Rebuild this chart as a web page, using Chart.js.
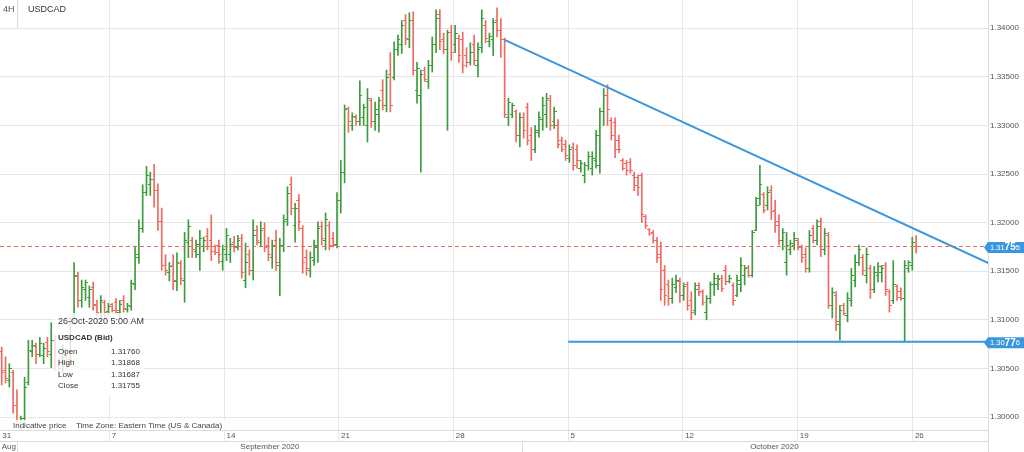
<!DOCTYPE html>
<html>
<head>
<meta charset="utf-8">
<script src="https://cdn.jsdelivr.net/npm/chart.js@4.4.1/dist/chart.umd.min.js"></script>
<style>
html,body{margin:0;padding:0;background:#fff;overflow:hidden}
#c{display:block}
</style>
</head>
<body>
<canvas id="c" width="1024" height="452"></canvas>
<script>
// ---------------- data (USDCAD 4H bars, index 0 = first visible bar) ----------------
const opens = [
1.3067,1.3048,1.3038,1.3046,1.3012,1.2993,1.2999,1.3036,1.3067,1.3073,
1.3064,1.3063,1.3077,1.3064,1.3079,1.3057,1.3050,1.3067,1.3059,1.3100,
1.3145,1.3120,1.3131,1.3123,1.3133,1.3116,1.3107,1.3118,1.3109,1.3116,
1.3118,1.3108,1.3120,1.3111,1.3114,1.3136,1.3164,1.3194,1.3231,1.3239,
1.3244,1.3233,1.3201,1.3156,1.3149,1.3156,1.3139,1.3158,1.3141,1.3180,
1.3182,1.3170,1.3167,1.3176,1.3186,1.3182,1.3175,1.3177,1.3160,1.3167,
1.3167,1.3180,1.3175,1.3184,1.3141,1.3167,1.3151,1.3192,1.3180,1.3194,
1.3177,1.3164,1.3182,1.3156,1.3177,1.3203,1.3239,1.3197,1.3223,1.3194,
1.3164,1.3151,1.3161,1.3174,1.3196,1.3182,1.3197,1.3184,1.3178,1.3223,
1.3252,1.3317,1.3300,1.3308,1.3304,1.3308,1.3300,1.3326,1.3304,1.3311,
1.3336,1.3321,1.3352,1.3349,1.3378,1.3383,1.3408,1.3388,1.3408,1.3336,
1.3331,1.3357,1.3345,1.3362,1.3383,1.3414,1.3388,1.3378,1.3396,1.3383,
1.3390,1.3388,1.3372,1.3365,1.3383,1.3362,1.3380,1.3403,1.3386,1.3388,
1.3408,1.3398,1.3388,1.3308,1.3311,1.3314,1.3290,1.3308,1.3318,1.3290,
1.3275,1.3295,1.3306,1.3311,1.3326,1.3304,1.3300,1.3285,1.3280,1.3266,
1.3277,1.3275,1.3256,1.3249,1.3259,1.3256,1.3264,1.3259,1.3314,1.3331,
1.3305,1.3303,1.3285,1.3264,1.3261,1.3262,1.3249,1.3246,1.3249,1.3206,
1.3193,1.3190,1.3182,1.3167,1.3151,1.3136,1.3122,1.3133,1.3139,1.3125,
1.3136,1.3120,1.3110,1.3135,1.3129,1.3108,1.3122,1.3136,1.3136,1.3143,
1.3151,1.3139,1.3135,1.3125,1.3136,1.3146,1.3154,1.3146,1.3192,1.3225,
1.3229,1.3218,1.3233,1.3213,1.3201,1.3182,1.3159,1.3172,1.3177,1.3182,
1.3174,1.3167,1.3153,1.3194,1.3182,1.3201,1.3172,1.3187,1.3115,1.3125,
1.3095,1.3115,1.3105,1.3120,1.3141,1.3159,1.3164,1.3146,1.3153,1.3131,
1.3146,1.3149,1.3156,1.3129,1.3120,1.3134,1.3129,1.3122,1.3153,1.3156,
1.31760];
const highs = [
1.3072,1.3062,1.3055,1.3048,1.3028,1.3001,1.3041,1.3079,1.3079,1.3076,
1.3082,1.3076,1.3082,1.3097,1.3084,1.3061,1.3074,1.3071,1.3102,1.3159,
1.3149,1.3141,1.3141,1.3135,1.3139,1.3120,1.3125,1.3120,1.3117,1.3117,
1.3122,1.3120,1.3125,1.3117,1.3141,1.3176,1.3203,1.3239,1.3258,1.3252,
1.3260,1.3240,1.3215,1.3167,1.3159,1.3167,1.3169,1.3161,1.3190,1.3203,
1.3185,1.3182,1.3192,1.3185,1.3194,1.3208,1.3177,1.3182,1.3177,1.3194,
1.3184,1.3186,1.3187,1.3188,1.3179,1.3172,1.3203,1.3197,1.3201,1.3200,
1.3185,1.3182,1.3192,1.3184,1.3208,1.3237,1.3247,1.3220,1.3229,1.3197,
1.3172,1.3170,1.3182,1.3201,1.3201,1.3210,1.3201,1.3190,1.3231,1.3264,
1.3321,1.3319,1.3313,1.3311,1.3346,1.3322,1.3338,1.3328,1.3324,1.3329,
1.3347,1.3357,1.3375,1.3386,1.3393,1.3408,1.3414,1.3416,1.3417,1.3365,
1.3357,1.3360,1.3367,1.3391,1.3419,1.3419,1.3395,1.3398,1.3403,1.3403,
1.3393,1.3396,1.3380,1.3385,1.3393,1.3385,1.3419,1.3408,1.3395,1.3410,
1.3421,1.3410,1.3390,1.3328,1.3323,1.3316,1.3313,1.3313,1.3323,1.3298,
1.3300,1.3314,1.3329,1.3333,1.3331,1.3319,1.3306,1.3288,1.3285,1.3280,
1.3282,1.3280,1.3264,1.3262,1.3273,1.3273,1.3295,1.3318,1.3338,1.3342,
1.3308,1.3308,1.3290,1.3266,1.3264,1.3266,1.3252,1.3249,1.3251,1.3208,
1.3194,1.3192,1.3185,1.3180,1.3156,1.3141,1.3143,1.3146,1.3143,1.3138,
1.3139,1.3129,1.3138,1.3138,1.3131,1.3125,1.3139,1.3148,1.3146,1.3146,
1.3156,1.3146,1.3138,1.3146,1.3164,1.3156,1.3156,1.3192,1.3226,1.3259,
1.3231,1.3237,1.3238,1.3223,1.3208,1.3194,1.3190,1.3182,1.3190,1.3184,
1.3177,1.3174,1.3192,1.3197,1.3203,1.3205,1.3194,1.3190,1.3133,1.3129,
1.3115,1.3117,1.3128,1.3153,1.3167,1.3177,1.3167,1.3174,1.3156,1.3155,
1.3159,1.3156,1.3159,1.3131,1.3161,1.3136,1.3133,1.3161,1.3161,1.3185,
1.31868];
const lows = [
1.3033,1.3035,1.3031,1.3004,1.2990,1.2987,1.2994,1.3033,1.3062,1.3055,
1.3062,1.3055,1.3062,1.3051,1.3048,1.3041,1.3046,1.3050,1.3053,1.3095,
1.3113,1.3113,1.3120,1.3113,1.3110,1.3104,1.3098,1.3102,1.3105,1.3108,
1.3107,1.3102,1.3108,1.3108,1.3110,1.3131,1.3158,1.3190,1.3228,1.3228,
1.3216,1.3192,1.3151,1.3146,1.3140,1.3131,1.3130,1.3136,1.3118,1.3164,
1.3164,1.3164,1.3151,1.3170,1.3172,1.3161,1.3167,1.3158,1.3151,1.3161,
1.3159,1.3170,1.3172,1.3143,1.3133,1.3146,1.3141,1.3177,1.3175,1.3170,
1.3161,1.3153,1.3151,1.3125,1.3170,1.3197,1.3208,1.3180,1.3192,1.3148,
1.3146,1.3144,1.3156,1.3159,1.3177,1.3172,1.3172,1.3175,1.3174,1.3210,
1.3241,1.3293,1.3295,1.3300,1.3300,1.3300,1.3283,1.3298,1.3295,1.3293,
1.3316,1.3314,1.3314,1.3347,1.3372,1.3374,1.3383,1.3380,1.3352,1.3323,
1.3252,1.3345,1.3338,1.3355,1.3375,1.3378,1.3374,1.3295,1.3367,1.3375,
1.3365,1.3354,1.3360,1.3362,1.3362,1.3350,1.3375,1.3385,1.3381,1.3372,
1.3391,1.3370,1.3308,1.3300,1.3308,1.3283,1.3278,1.3287,1.3280,1.3264,
1.3272,1.3288,1.3295,1.3298,1.3295,1.3297,1.3277,1.3273,1.3264,1.3262,
1.3254,1.3256,1.3252,1.3241,1.3254,1.3249,1.3256,1.3251,1.3300,1.3300,
1.3285,1.3267,1.3272,1.3254,1.3249,1.3251,1.3233,1.3228,1.3200,1.3194,
1.3187,1.3179,1.3159,1.3120,1.3115,1.3115,1.3117,1.3128,1.3118,1.3120,
1.3110,1.3100,1.3105,1.3125,1.3115,1.3100,1.3117,1.3125,1.3131,1.3129,
1.3136,1.3138,1.3115,1.3124,1.3129,1.3136,1.3144,1.3144,1.3192,1.3218,
1.3210,1.3213,1.3203,1.3190,1.3177,1.3172,1.3146,1.3167,1.3172,1.3172,
1.3159,1.3149,1.3149,1.3179,1.3177,1.3165,1.3167,1.3112,1.3102,1.3089,
1.3079,1.3105,1.3098,1.3114,1.3134,1.3156,1.3146,1.3138,1.3122,1.3128,
1.3139,1.3139,1.3125,1.3108,1.3117,1.3120,1.3120,1.30776,1.3149,1.3151,
1.31687];
const closes = [
1.3046,1.3040,1.3050,1.3012,1.2993,1.2999,1.3030,1.3069,1.3074,1.3064,
1.3076,1.3071,1.3067,1.3079,1.3057,1.3046,1.3069,1.3057,1.3098,1.3146,
1.3120,1.3133,1.3138,1.3131,1.3115,1.3108,1.3120,1.3108,1.3114,1.3110,
1.3110,1.3116,1.3112,1.3115,1.3137,1.3167,1.3194,1.3231,1.3249,1.3244,
1.3233,1.3201,1.3156,1.3151,1.3155,1.3141,1.3159,1.3143,1.3182,1.3196,
1.3172,1.3178,1.3184,1.3182,1.3176,1.3170,1.3169,1.3167,1.3172,1.3187,
1.3178,1.3174,1.3182,1.3149,1.3159,1.3151,1.3187,1.3182,1.3192,1.3174,
1.3167,1.3177,1.3159,1.3177,1.3201,1.3230,1.3215,1.3215,1.3201,1.3159,
1.3153,1.3164,1.3177,1.3194,1.3184,1.3203,1.3177,1.3177,1.3223,1.3252,
1.3316,1.3304,1.3309,1.3304,1.3331,1.3318,1.3328,1.3304,1.3316,1.3326,
1.3321,1.3349,1.3321,1.3378,1.3388,1.3403,1.3390,1.3408,1.3357,1.3359,
1.3352,1.3347,1.3362,1.3383,1.3410,1.3386,1.3378,1.3396,1.3375,1.3395,
1.3372,1.3362,1.3365,1.3375,1.3367,1.3378,1.3410,1.3390,1.3392,1.3406,
1.3398,1.3388,1.3311,1.3324,1.3321,1.3290,1.3308,1.3295,1.3285,1.3275,
1.3293,1.3308,1.3321,1.3328,1.3300,1.3314,1.3280,1.3275,1.3269,1.3275,
1.3259,1.3264,1.3261,1.3259,1.3268,1.3266,1.3290,1.3314,1.3331,1.3316,
1.3290,1.3275,1.3275,1.3256,1.3254,1.3254,1.3238,1.3236,1.3208,1.3197,
1.3189,1.3182,1.3164,1.3131,1.3125,1.3122,1.3136,1.3141,1.3125,1.3134,
1.3115,1.3108,1.3131,1.3128,1.3118,1.3122,1.3136,1.3143,1.3142,1.3132,
1.3139,1.3143,1.3120,1.3141,1.3156,1.3153,1.3146,1.3190,1.3218,1.3239,
1.3213,1.3231,1.3211,1.3197,1.3182,1.3190,1.3177,1.3179,1.3184,1.3174,
1.3164,1.3153,1.3187,1.3182,1.3196,1.3172,1.3189,1.3115,1.3128,1.3098,
1.3110,1.3107,1.3122,1.3146,1.3159,1.3172,1.3151,1.3167,1.3131,1.3149,
1.3155,1.3153,1.3131,1.3115,1.3136,1.3123,1.3122,1.3156,1.3159,1.3180,
1.31755];

// week separators (bar-index position of each Monday) and their day labels
const weekTicks  = [-1.8, 28.3, 58.4, 88.5, 118.6, 148.7, 178.8, 208.9, 239.1];
const weekLabels = ['31', '7', '14', '21', '28', '5', '12', '19', '26'];
// month boundaries (bar-index of Aug 1, Sep 1, Oct 1, Nov 1) and month labels
const monthStarts = [-122, 4.2, 136.6, 269.0];
const monthLabels = ['Aug', 'September 2020', 'October 2020'];
// price axis ticks
const yTicks = [1.300, 1.305, 1.310, 1.315, 1.320, 1.325, 1.330, 1.335, 1.340];
// drawn studies
const trendX = [132, 262];
const trendY = [1.3388, 1.3153];
const supportX = [148.7, 262];
const supportY = [1.30776, 1.30776];

const symbol = 'USDCAD';
const interval = '4H';
const lastBarTime = '26-Oct-2020 5:00 AM';

// ---------------- view / style ----------------
const xMin = -0.45, xMax = 258.87;
const yMin = 1.29867, yMax = 1.34291;
const FONT = '"Liberation Sans", Arial, Helvetica, sans-serif';
const UP = '#3c9b3c', DOWN = '#ee6a62', BLUE = '#3b97dd', GRID = '#e6e6e6', AXISLINE = '#dcdcdc';

Chart.defaults.font.family = FONT;
Chart.defaults.font.size = 8;
Chart.defaults.color = '#555';

const N = closes.length;
const last = N - 1;
const isUp = i => closes[i] >= opens[i];

function tickImage(color, side) {
  const c = document.createElement('canvas');
  c.width = 5; c.height = 1;
  const g = c.getContext('2d');
  g.fillStyle = color;
  if (side === 'open') g.fillRect(0, 0, 3, 1); else g.fillRect(2, 0, 3, 1);
  return c;
}
const imgs = {
  openUp: tickImage(UP, 'open'), openDn: tickImage(DOWN, 'open'),
  closeUp: tickImage(UP, 'close'), closeDn: tickImage(DOWN, 'close')
};

// month tick list (label ticks at month-span centres, boundary ticks)
const monthTicks = [];
for (let m = 0; m < monthLabels.length; m++) {
  const lo = Math.max(monthStarts[m], xMin), hi = monthStarts[m + 1];
  monthTicks.push({ value: (lo + hi) / 2, text: monthLabels[m], kind: 'l' });
  if (m > 0) monthTicks.push({ value: monthStarts[m], text: '', kind: 'b' });
}
monthTicks.sort((a, b) => a.value - b.value);

function priceTag(ctx, yPix, value, x0) {
  const s = value.toFixed(5);
  ctx.fillStyle = BLUE;
  ctx.beginPath();
  ctx.moveTo(x0 - 4, yPix + 1);
  ctx.lineTo(x0, yPix - 4.5);
  ctx.lineTo(1024, yPix - 4.5);
  ctx.lineTo(1024, yPix + 6.5);
  ctx.lineTo(x0, yPix + 6.5);
  ctx.closePath();
  ctx.fill();
  ctx.fillStyle = '#fff';
  ctx.textAlign = 'left';
  ctx.textBaseline = 'middle';
  let x = x0 + 2;
  const yc = yPix + 1.2;
  ctx.font = '7.5px ' + FONT;
  ctx.fillText(s.slice(0, 4), x, yc + 0.5); x += ctx.measureText(s.slice(0, 4)).width;
  ctx.font = 'bold 10px ' + FONT;
  ctx.fillText(s.slice(4, 6), x, yc); x += ctx.measureText(s.slice(4, 6)).width;
  ctx.font = '7.5px ' + FONT;
  ctx.fillText(s.slice(6), x, yc + 0.5);
}

const overlay = {
  id: 'overlay',
  afterDraw(chart) {
    const ctx = chart.ctx, ys = chart.scales.y, area = chart.chartArea;
    ctx.save();
    // header
    ctx.textAlign = 'left'; ctx.textBaseline = 'middle';
    ctx.font = '9px ' + FONT; ctx.fillStyle = '#555';
    ctx.fillText(interval, 3, 10);
    ctx.strokeStyle = AXISLINE; ctx.lineWidth = 1;
    ctx.beginPath(); ctx.moveTo(17.5, 0); ctx.lineTo(17.5, 28); ctx.stroke();
    ctx.fillStyle = '#333';
    ctx.fillText(symbol, 28, 10);

    // info panel for the last bar
    ctx.fillStyle = 'rgba(255,255,255,0.8)';
    ctx.fillRect(54, 313, 90, 84);
    ctx.fillStyle = '#333';
    ctx.font = '9px ' + FONT;
    ctx.fillText(lastBarTime, 58, 322);
    ctx.font = 'bold 8px ' + FONT;
    ctx.fillText(symbol + ' (Bid)', 58, 338);
    ctx.font = '8px ' + FONT;
    const rows = [['Open', opens[last]], ['High', highs[last]], ['Low', lows[last]], ['Close', closes[last]]];
    rows.forEach((r, k) => {
      const yy = 352 + k * 11.2;
      ctx.fillText(r[0], 58, yy);
      ctx.fillText(r[1].toFixed(5), 111, yy);
    });

    // footer texts
    ctx.fillStyle = 'rgba(255,255,255,0.85)';
    ctx.fillRect(10, 420, 216, 10);
    ctx.fillStyle = '#444';
    ctx.font = '8px ' + FONT;
    ctx.fillText('Indicative price', 13, 426);
    ctx.fillText('Time Zone: Eastern Time (US & Canada)', 76, 426);

    // axis line continuation in the date rows
    ctx.strokeStyle = AXISLINE;
    ctx.beginPath(); ctx.moveTo(area.right + 0.5, area.bottom); ctx.lineTo(area.right + 0.5, 452); ctx.stroke();

    // price tags
    priceTag(ctx, ys.getPixelForValue(closes[last]), closes[last], area.right);
    priceTag(ctx, ys.getPixelForValue(supportY[0]), supportY[0], area.right);
    ctx.restore();
  }
};

new Chart(document.getElementById('c'), {
  type: 'scatter',
  data: {
    datasets: [
      { type: 'line', data: trendX.map((x, i) => ({ x, y: trendY[i] })), borderColor: BLUE, borderWidth: 2,
        pointRadius: 0, fill: false, tension: 0, order: 0 },
      { type: 'line', data: supportX.map((x, i) => ({ x, y: supportY[i] })), borderColor: BLUE, borderWidth: 2,
        pointRadius: 0, fill: false, tension: 0, order: 0 },
      { type: 'line', data: [{ x: xMin, y: closes[last] }, { x: xMax, y: closes[last] }], borderColor: DOWN,
        borderWidth: 1, borderDash: [4, 3], pointRadius: 0, fill: false, order: 1 },
      { type: 'scatter', data: opens.map((o, i) => ({ x: i, y: o })),
        pointStyle: c => isUp(c.dataIndex) ? imgs.openUp : imgs.openDn, pointRadius: 2, pointHoverRadius: 2, order: 2 },
      { type: 'scatter', data: closes.map((v, i) => ({ x: i, y: v })),
        pointStyle: c => isUp(c.dataIndex) ? imgs.closeUp : imgs.closeDn, pointRadius: 2, pointHoverRadius: 2, order: 2 },
      { type: 'bar', data: highs.map((h, i) => ({ x: i, y: [lows[i], h] })),
        backgroundColor: c => isUp(c.dataIndex) ? UP : DOWN, barThickness: 1, borderWidth: 0, order: 3 }
    ]
  },
  options: {
    responsive: false,
    animation: false,
    events: [],
    layout: { padding: 0, autoPadding: false },
    plugins: { legend: { display: false }, tooltip: { enabled: false }, title: { display: false } },
    scales: {
      x: {
        type: 'linear', position: 'bottom', min: xMin, max: xMax, offset: false, weight: 0,
        grid: { color: c => c.index === 0 ? 'rgba(0,0,0,0)' : GRID, tickLength: 11, offset: false },
        border: { color: AXISLINE },
        ticks: { align: 'start', padding: -10, autoSkip: false, maxRotation: 0, minRotation: 0, color: '#555',
                 callback: (v, i) => ' ' + weekLabels[i] },
        afterBuildTicks: s => { s.ticks = weekTicks.map(v => ({ value: Math.max(v, xMin) })); },
        afterFit: s => { s.height = 11; s.paddingLeft = 0; s.paddingRight = 0; }
      },
      x2: {
        type: 'linear', position: 'bottom', min: xMin, max: xMax, offset: false, weight: 1,
        grid: { drawOnChartArea: false, tickLength: 11, color: c => (monthTicks[c.index] && monthTicks[c.index].kind === 'b') ? AXISLINE : 'rgba(0,0,0,0)' },
        border: { color: AXISLINE },
        ticks: { align: 'center', padding: -10, autoSkip: false, maxRotation: 0, minRotation: 0, color: '#555',
                 callback: (v, i) => monthTicks[i] ? monthTicks[i].text : '' },
        afterBuildTicks: s => { s.ticks = monthTicks.map(t => ({ value: t.value })); },
        afterFit: s => { s.height = 11; s.paddingLeft = 0; s.paddingRight = 0; }
      },
      y: {
        type: 'linear', position: 'right', min: yMin, max: yMax,
        grid: { color: GRID, drawTicks: false },
        border: { color: AXISLINE },
        ticks: { padding: 2, color: '#555', callback: v => v.toFixed(5) },
        afterBuildTicks: s => { s.ticks = yTicks.map(v => ({ value: v })); },
        afterFit: s => { s.width = 36; s.paddingTop = 0; s.paddingBottom = 0; }
      }
    }
  },
  plugins: [overlay]
});
</script>
</body>
</html>
